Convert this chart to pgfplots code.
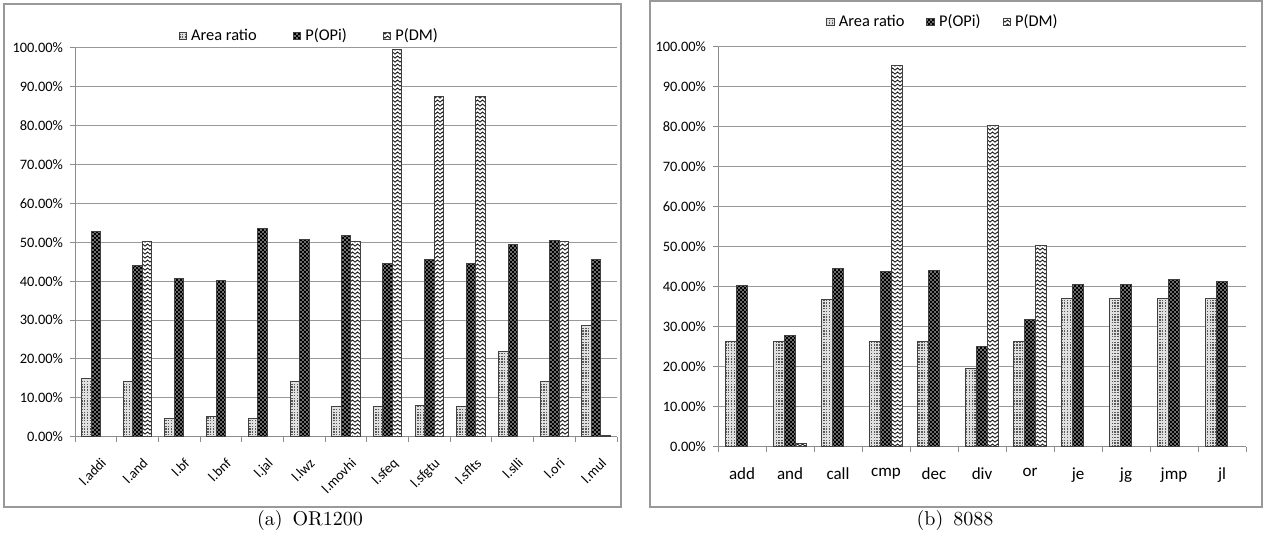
\documentclass[border=0pt]{standalone}
\usepackage{fontspec}
\usepackage{pgfplots}
\pgfplotsset{compat=1.18}
\usetikzlibrary{patterns}
\newfontfamily\calibri{Carlito}

\pgfdeclarepatternformonly{areadots}{\pgfqpoint{-0.1pt}{-0.1pt}}{\pgfqpoint{1.5pt}{1.5pt}}{\pgfqpoint{1.4pt}{1.4pt}}{%
  \pgfpathrectangle{\pgfqpoint{0pt}{0pt}}{\pgfqpoint{0.7pt}{0.7pt}}\pgfusepath{fill}}
\pgfdeclarepatternformonly{opidots}{\pgfqpoint{-0.1pt}{-0.1pt}}{\pgfqpoint{2.1pt}{2.1pt}}{\pgfqpoint{2pt}{2pt}}{%
  \pgfpathrectangle{\pgfqpoint{0.2pt}{0.2pt}}{\pgfqpoint{0.6pt}{0.6pt}}%
  \pgfpathrectangle{\pgfqpoint{1.2pt}{1.2pt}}{\pgfqpoint{0.6pt}{0.6pt}}\pgfusepath{fill}}
\pgfdeclarepatternformonly{zigzag}{\pgfqpoint{-0.3pt}{-0.3pt}}{\pgfqpoint{2.8pt}{2.3pt}}{\pgfqpoint{2.5pt}{2pt}}{%
  \pgfsetlinewidth{0.45pt}%
  \pgfpathmoveto{\pgfqpoint{0pt}{0.4pt}}%
  \pgfpathlineto{\pgfqpoint{1.25pt}{1.5pt}}%
  \pgfpathlineto{\pgfqpoint{2.5pt}{0.4pt}}%
  \pgfusepath{stroke}}

\pgfplotsset{
  mylegend/.style={legend image code/.code={%
      \path[##1,draw=none] (0pt,-1.9pt) rectangle (3.8pt,1.9pt);}},
  areastyle/.style={draw=black!75, line width=0.5pt, fill=black!12,
      postaction={pattern=areadots, pattern color=black!65}, mylegend},
  opistyle/.style={draw=black!75, line width=0.5pt, fill=black,
      postaction={pattern=opidots, pattern color=white}, mylegend},
  dmstyle/.style={draw=black!75, line width=0.5pt, fill=white,
      postaction={pattern=zigzag, pattern color=black!90}, mylegend},
  excel/.style={
    scale only axis,
    ymin=0, ymax=100,
    ytick={0,10,...,100},
    yticklabel={\pgfmathprintnumber[fixed,fixed zerofill,precision=2]{\tick}\%},
    /pgf/number format/assume math mode=true,
    tick align=outside,
    major x tick style={draw=none},
    major tick length=2.5pt, minor tick length=2.5pt,
    tick style={black!45, line width=0.5pt},
    axis x line*=bottom, axis y line*=left,
    axis line style={black!45, line width=0.5pt, -},
    ymajorgrids, grid style={black!40, line width=0.5pt},
    yticklabel style={font=\calibri\fontsize{7.2}{8}\selectfont},
    legend columns=3,
    legend style={draw=none, fill=none, font=\calibri\fontsize{8.2}{9}\selectfont,
       inner sep=0pt},
    clip=false,
  }
}

\begin{document}
\begin{tikzpicture}
\useasboundingbox (0pt,0pt) rectangle (633.5pt,269.5pt);
% frames
\draw[black!40, line width=0.6pt] (2pt,16pt) rectangle (310.5pt,267.5pt);
\draw[black!40, line width=0.6pt] (325pt,16pt) rectangle (631pt,269pt);

\begin{axis}[excel,
  at={(37.5pt,51.15pt)}, anchor=south west,
  width=271pt, height=194.35pt,
  xmin=-0.5, xmax=12.5,
  ybar=0pt, bar width=4.75pt,
  xtick={0,...,12},
  xticklabels={l.addi,l.and,l.bf,l.bnf,l.jal,l.lwz,l.movhi,l.sfeq,l.sfgtu,l.sflts,l.slli,l.ori,l.mul},
  minor xtick={-0.5,0.5,...,12.5},
  xticklabel style={font=\calibri\fontsize{7}{8}\selectfont, rotate=45, anchor=north east, xshift=-0.5pt, yshift=-3.5pt},
  legend style={at={(0.434,1.031)}, anchor=center,
    /tikz/every even column/.append style={column sep=16pt}},
]
\addplot[areastyle] coordinates {(0,15.0)(1,14.3)(2,4.8)(3,5.1)(4,4.8)(5,14.3)(6,7.8)(7,7.8)(8,8.1)(9,7.8)(10,21.9)(11,14.3)(12,28.5)};
\addplot[opistyle] coordinates {(0,52.8)(1,44.0)(2,40.7)(3,40.1)(4,53.5)(5,50.7)(6,51.7)(7,44.5)(8,45.7)(9,44.5)(10,49.4)(11,50.6)(12,45.6)};
\addplot[dmstyle] coordinates {(1,50.2)(6,50.3)(7,99.7)(8,87.6)(9,87.6)(11,50.3)(12,0.4)};
\legend{Area ratio, P(OPi), P(DM)}
\end{axis}

\begin{axis}[excel,
  at={(359pt,46.15pt)}, anchor=south west,
  width=264pt, height=200pt,
  xmin=-0.5, xmax=10.5,
  ybar=0pt, bar width=5.65pt,
  xtick={0,...,10},
  xticklabels={add,and,call,cmp,dec,div,or,je,jg,jmp,jl},
  minor xtick={-0.5,0.5,...,10.5},
  xticklabel style={font=\calibri\fontsize{8.5}{9}\selectfont, yshift=-4.5pt},
  legend style={at={(0.428,1.062)}, anchor=center,
    /tikz/every even column/.append style={column sep=9pt}},
]
\addplot[areastyle] coordinates {(0,26.4)(1,26.4)(2,36.9)(3,26.4)(4,26.4)(5,19.6)(6,26.4)(7,37.0)(8,37.0)(9,37.0)(10,37.0)};
\addplot[opistyle] coordinates {(0,40.2)(1,27.7)(2,44.5)(3,43.7)(4,44.0)(5,25.0)(6,31.9)(7,40.6)(8,40.6)(9,41.8)(10,41.2)};
\addplot[dmstyle] coordinates {(1,0.8)(3,95.2)(5,80.3)(6,50.2)};
\legend{Area ratio, P(OPi), P(DM)}
\end{axis}

\node[font=\fontsize{10}{11}\selectfont] at (155pt,9pt) {(a)\enspace OR1200};
\node[font=\fontsize{10}{11}\selectfont] at (477.5pt,9pt) {(b)\enspace 8088};
\end{tikzpicture}
\end{document}
